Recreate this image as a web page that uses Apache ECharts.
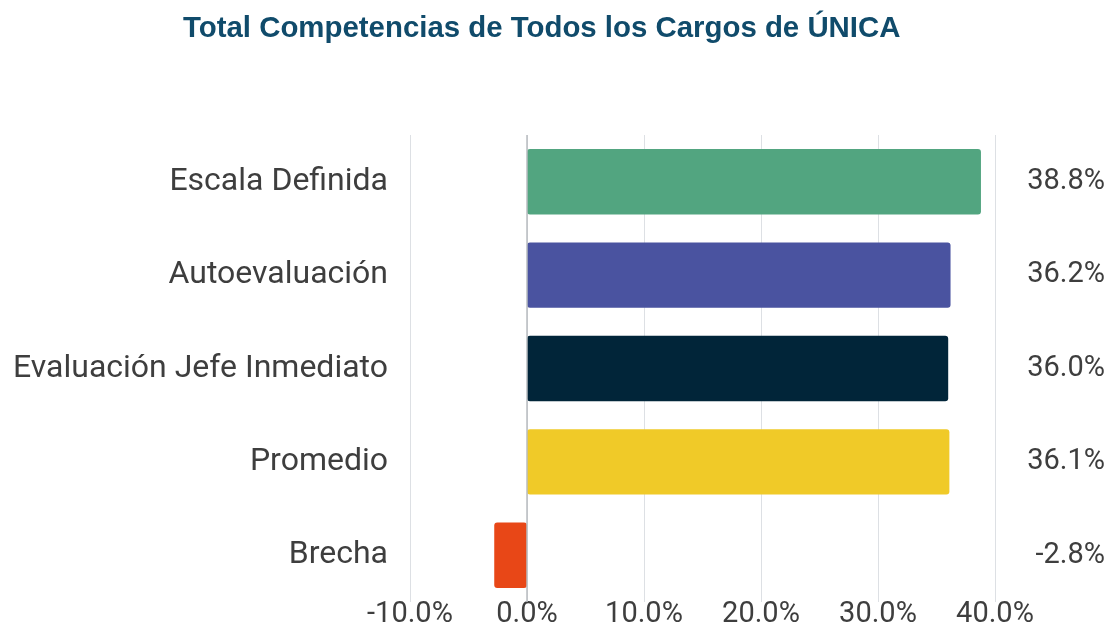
<!DOCTYPE html>
<html>
<head>
<meta charset="utf-8">
<script src="https://cdn.jsdelivr.net/npm/echarts@6/dist/echarts.min.js"></script>
<style>
  html, body { margin: 0; padding: 0; background: #fff; }
  #chart { width: 1115px; height: 629px; }
</style>
</head>
<body>
<div id="chart"></div>
<script>
  // Données du graphique
  const categories = ['Escala Definida', 'Autoevaluación', 'Evaluación Jefe Inmediato', 'Promedio', 'Brecha'];
  const values = [38.8, 36.2, 36.0, 36.1, -2.8];
  const barColors = ['#52a580', '#4a53a0', '#012539', '#f0ca28', '#e84717'];

  const pct = v => v.toFixed(1) + '%';
  const labelFont = 'Roboto';

  const chart = echarts.init(document.getElementById('chart'));

  const option = {
    animation: false,
    title: {
      text: 'Total Competencias de Todos los Cargos de ÚNICA',
      left: 178,
      top: 9,
      textStyle: {
        fontFamily: 'Liberation Sans',
        fontSize: 29.4,
        fontWeight: 'bold',
        color: '#104b6b'
      }
    },
    grid: { left: 410, right: 120, top: 135, bottom: 27 },
    xAxis: {
      type: 'value',
      min: -10,
      max: 40,
      interval: 10,
      axisLine: { show: false },
      axisTick: { show: false },
      splitLine: { lineStyle: { color: '#dde0e4', width: 1 } },
      axisLabel: {
        formatter: v => pct(v),
        margin: -2,
        fontFamily: labelFont,
        fontSize: 29,
        color: '#3e3e3e'
      }
    },
    yAxis: [
      {
        type: 'category',
        data: categories,
        inverse: true,
        axisLine: { show: false },
        axisTick: { show: false },
        axisLabel: {
          margin: 22,
          padding: [6, 0, 0, 0],
          fontFamily: labelFont,
          fontSize: 32,
          color: '#3e3e3e'
        }
      },
      {
        type: 'category',
        data: values.map(pct),
        inverse: true,
        position: 'right',
        axisLine: { show: false },
        axisTick: { show: false },
        axisLabel: {
          margin: 110,
          align: 'right',
          padding: [8, 0, 0, 0],
          fontFamily: labelFont,
          fontSize: 29,
          color: '#3e3e3e'
        }
      }
    ],
    series: [{
      type: 'bar',
      barCategoryGap: '30%',
      data: values.map((v, i) => ({
        value: v,
        itemStyle: { color: barColors[i], borderRadius: 3 }
      })),
      markLine: {
        silent: true,
        symbol: 'none',
        label: { show: false },
        lineStyle: { color: '#b8bcc0', type: 'solid', width: 1.5 },
        data: [{ xAxis: 0 }]
      }
    }]
  };

  chart.setOption(option);
</script>
</body>
</html>
